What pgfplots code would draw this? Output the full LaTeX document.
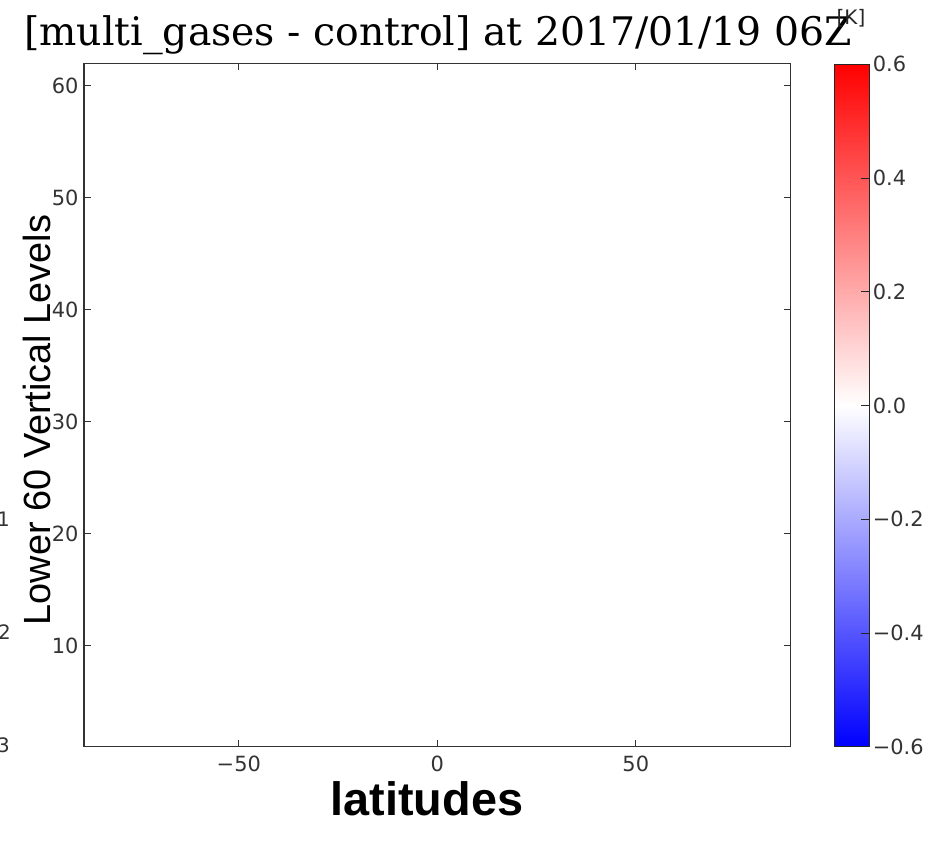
\documentclass[border=0pt]{standalone}
\usepackage{fontspec}
\setmainfont{DejaVu Sans}
\newfontfamily\titlefont{DejaVu Serif}
\newfontfamily\labfont{Liberation Sans}
\usepackage{pgfplots}
\pgfplotsset{compat=1.18}
\begin{document}
\begin{tikzpicture}
\useasboundingbox (0bp,0bp) rectangle (942bp,843bp);
\begin{axis}[
  at={(84bp,96.3bp)}, anchor=south west,
  scale only axis, width=706.6bp, height=683.4bp,
  axis on top,
  xmin=-89, xmax=89, ymin=1, ymax=62,
  xtick={-50,0,50}, xticklabels={−50,0,50},
  ytick={10,20,30,40,50,60}, yticklabels={10,20,30,40,50,60},
  tick align=inside, major tick length=7bp,
  tick style={black!80, line width=0.8bp},
  axis line style={black!80, line width=1.3bp},
  tick label style={font=\fontsize{21}{24}\selectfont, text=black!80},
  xticklabel style={yshift=-6bp},
  yticklabel style={xshift=-2bp},
  colormap={bwr}{rgb=(0,0,1) rgb=(1,1,1) rgb=(1,0,0)},
  point meta min=-0.6, point meta max=0.6,
  colorbar,
  colorbar/width=35bp,
  colorbar shift/.style={},
  colorbar style={
    at={(parent axis.north east)}, anchor=north west,
    xshift=43.7bp, yshift=-1bp,
    scale only axis, width=35bp, height=682.4bp,
    ytick={-0.6,-0.4,-0.2,0,0.2,0.4,0.6},
    yticklabels={−0.6,−0.4,−0.2,0.0,0.2,0.4,0.6},
    ytick align=inside, ytick pos=right, major tick length=8bp,
    tick style={black!85, line width=0.8bp},
    axis line style={black!85, line width=1.3bp},
    yticklabel style={font=\fontsize{21}{24}\selectfont, text=black!80},
  },
]
\addplot[surf, shader=flat, draw=none, point meta=explicit, mesh/cols=2] coordinates {
(-89,1) [0] (89,1) [0]
(-89,62) [0] (89,62) [0]
};
\end{axis}
\node[anchor=base, font=\titlefont\fontsize{39.5}{42}\selectfont, inner sep=0] at (438bp,797bp) {[multi\_gases - control] at 2017/01/19 06Z};
\node[font=\fontsize{20}{24}\selectfont, text=black!85, inner sep=0] at (851bp,825bp) {[K]};
\node[anchor=base, font=\labfont\bfseries\fontsize{47}{50}\selectfont, inner sep=0] at (427bp,28bp) {latitudes};
\node[rotate=90, anchor=base, font=\labfont\fontsize{38}{40}\selectfont, inner sep=0] at (50bp,423bp) {Lower 60 Vertical Levels};
\node[anchor=east, font=\fontsize{20}{24}\selectfont, text=black!80, inner sep=0] at (10bp,324bp) {1};
\node[anchor=east, font=\fontsize{20}{24}\selectfont, text=black!80, inner sep=0] at (11bp,211bp) {2};
\node[anchor=east, font=\fontsize{20}{24}\selectfont, text=black!80, inner sep=0] at (10bp,98bp) {3};
\end{tikzpicture}
\end{document}
